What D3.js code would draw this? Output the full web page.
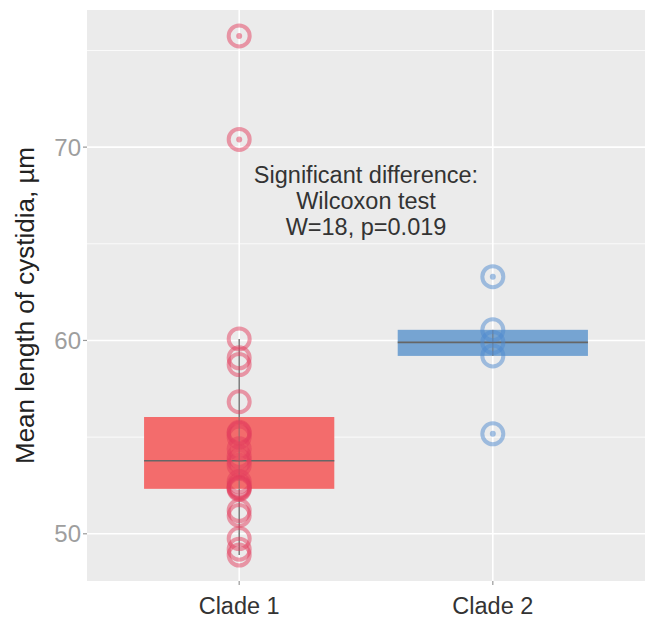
<!DOCTYPE html>
<html>
<head>
<meta charset="utf-8">
<script src="https://cdn.jsdelivr.net/npm/d3@7"></script>
<style>
  html, body { margin: 0; padding: 0; background: #fff; }
  svg { display: block; }
  text { font-family: "Liberation Sans", Arial, sans-serif; }
</style>
</head>
<body>
<svg id="chart" width="649" height="617"></svg>
<script>
// ---- data ----
const categories = ["Clade 1", "Clade 2"];
const clade1 = [75.75, 70.4, 60.08, 59.1, 58.75, 56.83, 55.25, 55.2, 55.0, 54.4, 54.0, 53.78,
                53.55, 52.7, 52.5, 52.4, 52.35, 52.3, 51.2, 50.95, 49.75, 49.2, 48.9];
const clade2 = [63.3, 60.55, 59.9, 59.2, 55.17];
const seriesValues = [clade1, clade2];
const yTicks = [50, 60, 70];
const yMinor = [55, 65, 75];
const annotationLines = ["Significant difference:", "Wilcoxon test", "W=18, p=0.019"];
const yTitle = "Mean length of cystidia, µm";

const boxFill = ["#F36C6C", "#76A4D2"];
const pointCol = ["rgba(228,62,94,0.5)", "rgba(78,138,208,0.5)"];

// ---- layout ----
const svg = d3.select("#chart");
const W = 649, H = 617;
const m = {left: 87, right: 4, top: 10, bottom: 36};
const pw = W - m.left - m.right, ph = H - m.top - m.bottom;

const all = clade1.concat(clade2);
const ext = d3.extent(all);
const pad = (ext[1] - ext[0]) * 0.05;
const y = d3.scaleLinear().domain([ext[0] - pad, ext[1] + pad]).range([m.top + ph, m.top]);
const xc = d3.scaleLinear().domain([0.4, 2.6]).range([m.left, m.left + pw]);
const xPos = i => xc(i + 1);
const boxHalf = (xc(1.375) - xc(1));

// panel
svg.append("rect").attr("x", m.left).attr("y", m.top).attr("width", pw).attr("height", ph).attr("fill", "#EBEBEB");

// grid
const g = svg.append("g");
g.selectAll(".minor").data(yMinor).join("line")
  .attr("x1", m.left).attr("x2", m.left + pw)
  .attr("y1", d => y(d)).attr("y2", d => y(d))
  .attr("stroke", "#fff").attr("stroke-width", 0.8);
g.selectAll(".major").data(yTicks).join("line")
  .attr("x1", m.left).attr("x2", m.left + pw)
  .attr("y1", d => y(d)).attr("y2", d => y(d))
  .attr("stroke", "#fff").attr("stroke-width", 1.6);
g.selectAll(".vmajor").data(categories).join("line")
  .attr("x1", (d, i) => xPos(i)).attr("x2", (d, i) => xPos(i))
  .attr("y1", m.top).attr("y2", m.top + ph)
  .attr("stroke", "#fff").attr("stroke-width", 1.6);

// boxes
seriesValues.forEach((vals, i) => {
  const s = vals.slice().sort(d3.ascending);
  const q1 = d3.quantile(s, 0.25), med = d3.quantile(s, 0.5), q3 = d3.quantile(s, 0.75);
  const iqr = q3 - q1;
  const lo = d3.min(s.filter(v => v >= q1 - 1.5 * iqr));
  const hi = d3.max(s.filter(v => v <= q3 + 1.5 * iqr));
  const cx = xPos(i);
  const bg = svg.append("g");
  bg.append("line").attr("x1", cx).attr("x2", cx).attr("y1", y(hi)).attr("y2", y(q3))
    .attr("stroke", "#707070").attr("stroke-width", 1.4);
  bg.append("line").attr("x1", cx).attr("x2", cx).attr("y1", y(q1)).attr("y2", y(lo))
    .attr("stroke", "#707070").attr("stroke-width", 1.4);
  bg.append("rect").attr("x", cx - boxHalf).attr("width", boxHalf * 2)
    .attr("y", y(q3)).attr("height", y(q1) - y(q3)).attr("fill", boxFill[i]);
  bg.append("line").attr("x1", cx).attr("x2", cx).attr("y1", y(q3)).attr("y2", y(q1))
    .attr("stroke", "#707070").attr("stroke-width", 1.4).attr("opacity", 0.6);
  bg.append("line").attr("x1", cx - boxHalf).attr("x2", cx + boxHalf).attr("y1", y(med)).attr("y2", y(med))
    .attr("stroke", "#666").attr("stroke-width", 1.6);
  // outlier dots
  bg.selectAll(".out").data(s.filter(v => v < q1 - 1.5 * iqr || v > q3 + 1.5 * iqr)).join("circle")
    .attr("cx", cx).attr("cy", d => y(d)).attr("r", 3).attr("fill", pointCol[i]);
  // points
  bg.selectAll(".pt").data(vals).join("circle")
    .attr("cx", cx).attr("cy", d => y(d)).attr("r", 10.5)
    .attr("fill", "none").attr("stroke", pointCol[i]).attr("stroke-width", 4);
});

// y axis ticks and labels
const ya = svg.append("g");
ya.selectAll("line").data(yTicks).join("line")
  .attr("x1", m.left - 4).attr("x2", m.left).attr("y1", d => y(d)).attr("y2", d => y(d))
  .attr("stroke", "#999").attr("stroke-width", 1.2);
ya.selectAll("text").data(yTicks).join("text")
  .attr("x", m.left - 6).attr("y", d => y(d)).attr("dy", "0.36em")
  .attr("text-anchor", "end").attr("font-size", 24).attr("fill", "#9E9E9E").text(d => d);

// x axis ticks and labels
const xa = svg.append("g");
xa.selectAll("line").data(categories).join("line")
  .attr("x1", (d, i) => xPos(i)).attr("x2", (d, i) => xPos(i))
  .attr("y1", m.top + ph).attr("y2", m.top + ph + 4)
  .attr("stroke", "#999").attr("stroke-width", 1.2);
xa.selectAll("text").data(categories).join("text")
  .attr("x", (d, i) => xPos(i)).attr("y", 614)
  .attr("text-anchor", "middle").attr("font-size", 23.5).attr("fill", "#333").text(d => d);

// y title
svg.append("text").attr("transform", `translate(34,${m.top + ph / 2 + 10}) rotate(-90)`)
  .attr("text-anchor", "middle").attr("font-size", 26).attr("fill", "#222").text(yTitle);

// annotation
svg.append("g").selectAll("text").data(annotationLines).join("text")
  .attr("x", xc(1.5)).attr("y", (d, i) => 183 + i * 26)
  .attr("text-anchor", "middle").attr("font-size", 23.5).attr("fill", "#333").text(d => d);
</script>
</body>
</html>
